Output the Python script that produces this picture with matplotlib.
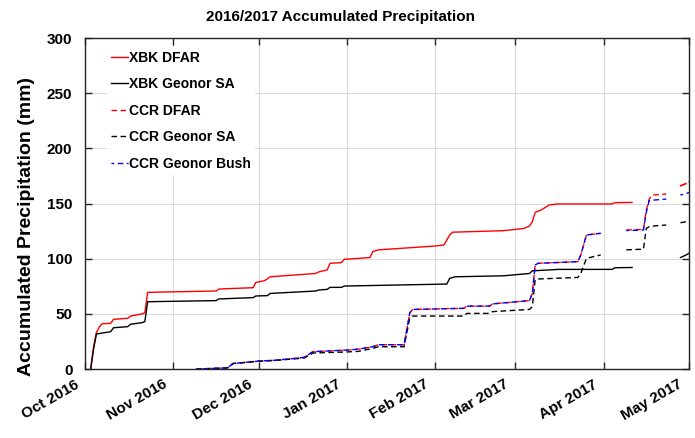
import numpy as np
import pandas as pd
import matplotlib
matplotlib.use('Agg')
import matplotlib.pyplot as plt
import matplotlib.dates as mdates
from matplotlib.transforms import ScaledTranslation

plt.rcParams['font.family'] = ['Liberation Sans', 'DejaVu Sans']
plt.rcParams['font.weight'] = 'bold'

nan = np.nan

# XBK DFAR (red solid)
xbk_dfar_dates = ['2016-10-03', '2016-10-04', '2016-10-05', '2016-10-06', '2016-10-07',
                  '2016-10-10', '2016-10-11', '2016-10-16', '2016-10-17', '2016-10-21',
                  '2016-10-22', '2016-10-23', '2016-11-16', '2016-11-17', '2016-11-29',
                  '2016-11-30', '2016-12-03', '2016-12-05', '2016-12-21', '2016-12-22',
                  '2016-12-25', '2016-12-26', '2016-12-30', '2016-12-31', '2017-01-09',
                  '2017-01-10', '2017-01-12', '2017-02-01', '2017-02-04', '2017-02-06',
                  '2017-02-07', '2017-02-25', '2017-03-04', '2017-03-06', '2017-03-07',
                  '2017-03-08', '2017-03-10', '2017-03-13', '2017-03-16', '2017-04-04',
                  '2017-04-05', '2017-04-11', '2017-04-20', '2017-04-28', '2017-04-30']
xbk_dfar = [0, 20, 33, 38, 41,
            41.4, 45, 46, 48, 50,
            51, 69.5, 70.7, 72.5, 73.7,
            78.5, 80, 83.6, 86.6, 88,
            89.8, 95.8, 96.4, 99.4, 101,
            106.4, 108, 111.5, 112.4, 121.5,
            124, 125.4, 127.4, 129.6, 133.5,
            142, 144, 148.7, 149.6, 149.6,
            150.8, 151, nan, 166, 168]

# XBK Geonor SA (black solid)
xbk_geonor_dates = ['2016-10-03', '2016-10-04', '2016-10-05', '2016-10-08', '2016-10-10',
                    '2016-10-11', '2016-10-16', '2016-10-17', '2016-10-21', '2016-10-22',
                    '2016-10-23', '2016-11-16', '2016-11-17', '2016-11-29', '2016-11-30',
                    '2016-12-04', '2016-12-05', '2016-12-21', '2016-12-22', '2016-12-25',
                    '2016-12-26', '2016-12-30', '2016-12-31', '2017-02-05', '2017-02-06',
                    '2017-02-08', '2017-02-25', '2017-03-06', '2017-03-07', '2017-03-13',
                    '2017-03-16', '2017-04-04', '2017-04-05', '2017-04-11', '2017-04-20',
                    '2017-04-28', '2017-04-30', '2017-05-01']
xbk_geonor = [0, 18, 31.7, 33, 33.8,
              37.4, 38.4, 40.6, 42, 43,
              61, 62, 63.5, 64.7, 66.2,
              66.5, 68.5, 70.7, 71.6, 72.2,
              74, 74, 75.2, 77, 82.2,
              83.6, 84.5, 86.6, 89, 89.8,
              90.3, 90.3, 91.8, 92, nan,
              101, 103.4, 105]

# CCR series
ccr_dates = ['2016-11-09', '2016-11-20', '2016-11-22', '2016-12-01', '2016-12-07',
             '2016-12-14', '2016-12-17', '2016-12-20', '2017-01-01', '2017-01-05',
             '2017-01-10', '2017-01-12', '2017-01-21', '2017-01-23', '2017-01-24',
             '2017-02-11', '2017-02-12', '2017-02-20', '2017-02-21', '2017-03-06',
             '2017-03-07', '2017-03-08', '2017-03-09', '2017-03-23', '2017-03-24',
             '2017-03-26', '2017-03-31', '2017-04-05', '2017-04-09', '2017-04-15',
             '2017-04-16', '2017-04-17', '2017-04-18', '2017-04-23', '2017-04-25',
             '2017-04-28', '2017-04-30', '2017-05-01']
ccr_dfar = [0, 1, 5, 7.2, 8,
            9.7, 10.6, 15.7, 17.2, 18,
            20.2, 22, 22, 51, 54,
            55, 57, 57, 59, 62,
            68.5, 94.3, 95.8, 97.3, 103.4,
            121.5, 123, nan, 126, 126.6,
            144, 153.8, 157.7, 158.6, nan,
            166, 168.3, 170]
ccr_bush = [0, 1, 5, 7.2, 8,
            9.7, 10.6, 15.7, 17.2, 18,
            20.2, 22, 22, 51, 54,
            55, 57, 57, 59, 62,
            68.5, 94.3, 95.8, 97.3, 103.4,
            121.5, 123, nan, 125.5, 126,
            142, 152.5, 153, 154, nan,
            157.7, 159, 160]
ccr_geonor = [0, 1, 5, 7, 7.8,
              9.3, 10, 14.5, 15.5, 16,
              18.7, 20.2, 20.2, 46.5, 48,
              48, 50.4, 50.4, 52, 54,
              56.5, 81, 81.6, 83, 86.6,
              100.3, 103.4, nan, 108, 108.6,
              127.4, 129, 129.5, 130.5, nan,
              132.6, 133.5, 134]

fig = plt.figure(figsize=(6.95, 4.38), dpi=100)
ax = fig.add_axes([0.1223, 0.1575, 0.8691, 0.7557])

ax.plot(pd.to_datetime(xbk_dfar_dates), xbk_dfar, color='red', lw=1, label='XBK DFAR')
ax.plot(pd.to_datetime(xbk_geonor_dates), xbk_geonor, color='black', lw=1, label='XBK Geonor SA')
ccr_t = pd.to_datetime(ccr_dates)
ax.plot(ccr_t, ccr_dfar, color='red', lw=1, ls=(0, (4, 2.5)), label='CCR DFAR')
ax.plot(ccr_t, ccr_geonor, color='black', lw=1, ls=(0, (4, 2.5)), label='CCR Geonor SA')
ax.plot(ccr_t, ccr_bush, color='blue', lw=1, ls=(2, (4, 2.5)), label='CCR Geonor Bush')

ax.set_xlim(pd.Timestamp('2016-10-01'), pd.Timestamp('2017-05-01'))
ax.set_ylim(0, 300)
ax.set_yticks(np.arange(0, 301, 50))
ax.xaxis.set_major_locator(mdates.MonthLocator())
ax.xaxis.set_major_formatter(mdates.DateFormatter('%b %Y'))

ax.grid(True, color='#dcdcdc', lw=0.8)
ax.set_axisbelow(True)
ax.tick_params(direction='in', top=True, right=True, length=5, width=1,
               labelsize=11, colors='#262626', labelcolor='black')
ax.tick_params(axis='y', pad=9)
ax.tick_params(axis='x', pad=6)
for s in ax.spines.values():
    s.set_color('#262626')
    s.set_linewidth(1)

shift = ScaledTranslation(-0.11, 0, fig.dpi_scale_trans)
for lbl in ax.get_xticklabels():
    lbl.set_rotation(30)
    lbl.set_ha('right')
    lbl.set_rotation_mode('anchor')
    lbl.set_transform(lbl.get_transform() + shift)

ax.set_ylabel('Accumulated Precipitation (mm)', fontsize=14, fontweight='bold')
ax.yaxis.set_label_coords(-0.083, 0.432)
fig.text(0.49, 0.962, '2016/2017 Accumulated Precipitation', fontsize=11,
         fontweight='bold', ha='center', va='center')

leg = ax.legend(loc='upper left', bbox_to_anchor=(0.036, 0.974), borderaxespad=0,
                fontsize=10, frameon=True, framealpha=1, edgecolor='none',
                fancybox=False, handlelength=1.2, handletextpad=0.1,
                labelspacing=0.9, borderpad=0.3)
for t in leg.get_texts():
    t.set_fontweight('bold')

fig.savefig('out.png', dpi=100)
